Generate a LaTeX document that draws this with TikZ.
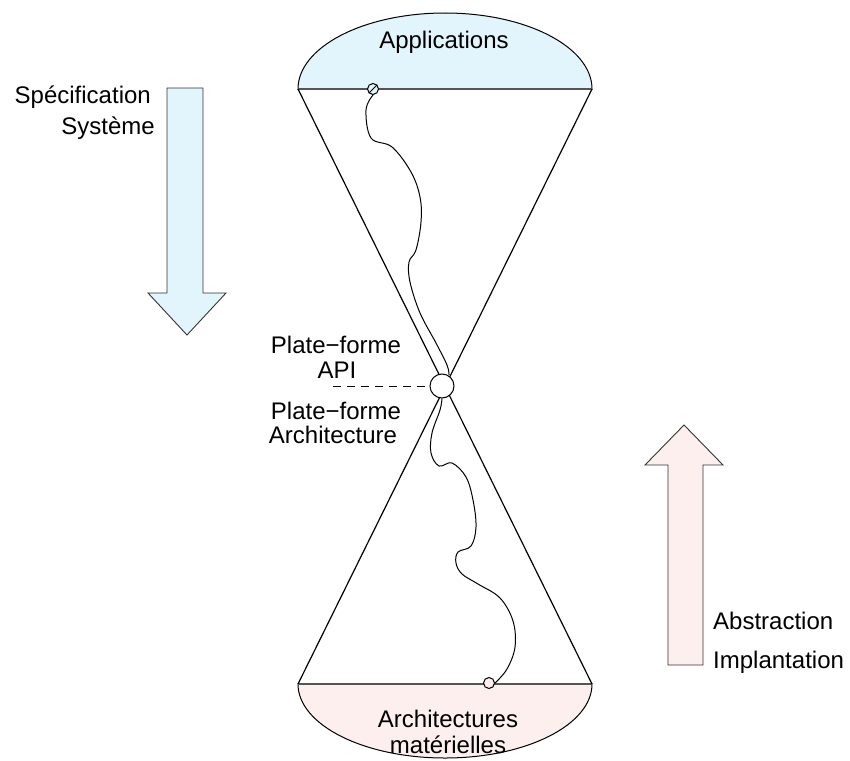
\documentclass[tikz,border=0pt]{standalone}
\usepackage{fontspec}
\setmainfont{Liberation Sans}
\definecolor{softblue}{HTML}{E2F4FC}
\definecolor{softpink}{HTML}{FCEFEE}
\definecolor{rimgray}{HTML}{555555}
\tikzset{
  lbl/.style={inner sep=0pt, font=\fontsize{24}{29}\selectfont},
  bigarrow/.style={draw=black!80, line width=0.9pt, line join=miter},
  wire/.style={line width=1pt},
  cone/.style={line width=1.2pt},
  rim/.style={draw=rimgray, line width=2pt},
  port/.style={circle, draw, line width=1pt, inner sep=0pt, minimum size=11pt}
}
\begin{document}
\begin{tikzpicture}[x=1pt,y=-1pt]
\useasboundingbox (0,0) rectangle (850,760);

% cap ellipses (y axis points down, so angles run the other way)
\filldraw[fill=softblue, line width=1pt] (298,89) arc[start angle=180, end angle=360, x radius=147, y radius=76] -- cycle;
\filldraw[fill=softpink, line width=1pt] (298,684) arc[start angle=180, end angle=0, x radius=147, y radius=74] -- cycle;
\draw[rim] (298,89) -- (592,89);
\draw[rim] (298,684) -- (592,684);

% hourglass
\coordinate (tl) at (298,89);
\coordinate (tr) at (592,89);
\coordinate (bl) at (298,684);
\coordinate (br) at (592,684);
\draw[cone] (tl) -- (br);
\draw[cone] (tr) -- (bl);

\node[lbl] (app) at (444,42) {Applications};
\node[lbl] (mat1) at (448,719) {Architectures};
\node[lbl] (mat2) at (448,745) {matérielles};

% waist
\node[circle, draw, fill=white, line width=1pt, inner sep=0pt, minimum size=24pt] (api) at (442,386) {};
\coordinate (dashend) at (333,386);
\draw[dashed, dash pattern=on 8pt off 6pt, line width=1pt] (dashend) -- (api.west);

\node[lbl] (pf1) at (336,345) {Plate−forme};
\node[lbl] (apil) at (337,370) {API};
\node[lbl] (pf2) at (336,411) {Plate−forme};
\node[lbl] (arch) at (333,435) {Architecture};

% ports on the cap lines
\node[port, fill=softblue] (ptop) at (373,89) {};
\draw[line width=0.9pt] (ptop.south west) -- (ptop.north east);
\node[port, fill=softpink] (pbot) at (489,683) {};

% winding links
\draw[wire] plot[smooth, tension=0.6] coordinates {(ptop.south) (366,110) (371,138) (392,147) (411,172) (420,197) (421,222) (416,250) (409,262) (410,282) (420,313) (436,343) (447,365) (449,375)};
\draw[wire] plot[smooth, tension=0.6] coordinates {(api.south) (440,410) (432,433) (431,453) (439,466) (452,463) (466,477) (473,500) (476,527) (471,546) (458,552) (456,563) (462,574) (478,584) (500,598) (513,621) (515,647) (507,669) (pbot.east)};

% direction arrows
\filldraw[bigarrow, fill=softblue] (167,88) -- (203,88) -- (203,293) -- (226,293) -- (187,335) -- (148,293) -- (167,293) -- cycle;
\node[lbl, anchor=east] (spec) at (151,97) {Spécification};
\node[lbl, anchor=east] (sys) at (155,128) {Système};

\filldraw[bigarrow, fill=softpink] (668,665) -- (703,665) -- (703,465) -- (723,465) -- (684,425) -- (645,465) -- (668,465) -- cycle;
\node[lbl, anchor=west] (abs) at (713,621) {Abstraction};
\node[lbl, anchor=west] (impl) at (713,662) {Implantation};
\end{tikzpicture}
\end{document}
